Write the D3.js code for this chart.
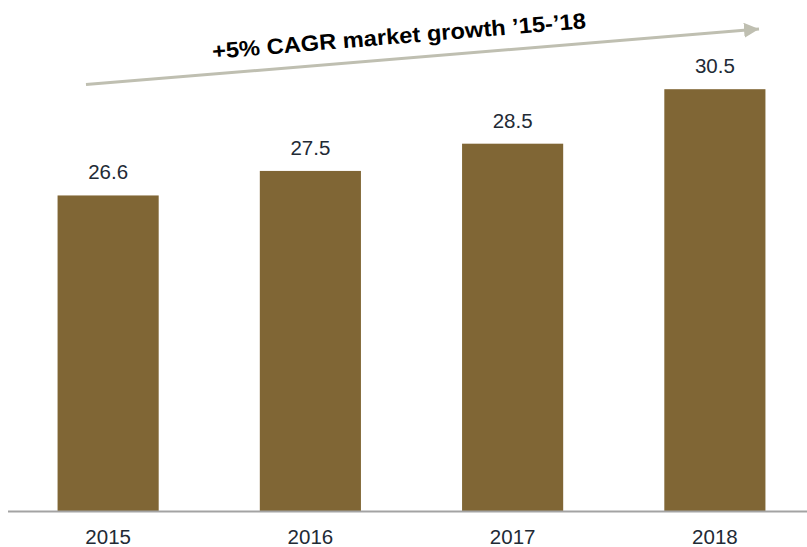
<!DOCTYPE html>
<html>
<head>
<meta charset="utf-8">
<script src="https://cdn.jsdelivr.net/npm/d3@7"></script>
<style>
  html, body { margin: 0; padding: 0; background: #fff; }
  svg { display: block; }
</style>
</head>
<body>
<svg id="chart" width="807" height="547"></svg>
<script>
const years = ["2015", "2016", "2017", "2018"];
const marketValues = [26.6, 27.5, 28.5, 30.5];
const valueLabels = ["26.6", "27.5", "28.5", "30.5"];
const growthLabel = "+5% CAGR market growth \u201915-\u201918";

const svg = d3.select("#chart");
const W = 807, H = 547;
const baseY = 511.5;

const x = d3.scaleBand().domain(years).range([7, 816]).paddingInner(0.5).paddingOuter(0.25);
const y = d3.scaleLinear().domain([15, 30.5]).range([baseY, 89.2]);

const barColor = "#806635";
const textColor = "#222a35";
const font = "Liberation Sans, Arial, sans-serif";

const rows = years.map((yr, i) => ({ yr, v: marketValues[i], lbl: valueLabels[i] }));

// bars
svg.append("g").selectAll("rect")
  .data(rows)
  .join("rect")
  .attr("x", d => x(d.yr))
  .attr("width", x.bandwidth())
  .attr("y", d => y(d.v))
  .attr("height", d => baseY - y(d.v))
  .attr("fill", barColor);

// value labels
svg.append("g").selectAll("text")
  .data(rows)
  .join("text")
  .attr("x", d => x(d.yr) + x.bandwidth() / 2)
  .attr("y", d => y(d.v) - 16)
  .attr("text-anchor", "middle")
  .attr("font-family", font)
  .attr("font-size", 20.5)
  .attr("fill", textColor)
  .text(d => d.lbl);

// x axis
const xAxis = d3.axisBottom(x).tickSize(0).tickPadding(0);
const gx = svg.append("g").attr("transform", `translate(0,${baseY})`).call(xAxis);
gx.select(".domain").remove();
gx.selectAll("text")
  .attr("font-family", font)
  .attr("font-size", 20.5)
  .attr("fill", textColor)
  .attr("dy", null)
  .attr("y", 32.5);
svg.append("line")
  .attr("x1", 8).attr("x2", W)
  .attr("y1", baseY).attr("y2", baseY)
  .attr("stroke", "#a3a3a3").attr("stroke-width", 2);

// growth arrow
const defs = svg.append("defs");
defs.append("marker")
  .attr("id", "arrowhead")
  .attr("viewBox", "0 0 10 10")
  .attr("refX", 10).attr("refY", 5)
  .attr("markerUnits", "userSpaceOnUse")
  .attr("markerWidth", 15).attr("markerHeight", 15)
  .attr("orient", "auto")
  .append("path").attr("d", "M0,0 L10,5 L0,10 Z").attr("fill", "#bfbfb1");

const ax1 = 86, ay1 = 84.5, ax2 = 759, ay2 = 29;
svg.append("line")
  .attr("x1", ax1).attr("y1", ay1)
  .attr("x2", ax2).attr("y2", ay2)
  .attr("stroke", "#bfbfb1").attr("stroke-width", 3)
  .attr("marker-end", "url(#arrowhead)");

const angle = Math.atan2(ay2 - ay1, ax2 - ax1) * 180 / Math.PI;
svg.append("text")
  .attr("transform", `translate(399.5,43.5) rotate(${angle})`)
  .attr("text-anchor", "middle")
  .attr("font-family", font)
  .attr("font-weight", "bold")
  .attr("font-size", 22)
  .attr("fill", "#000")
  .attr("textLength", 375)
  .attr("lengthAdjust", "spacingAndGlyphs")
  .text(growthLabel);
</script>
</body>
</html>
